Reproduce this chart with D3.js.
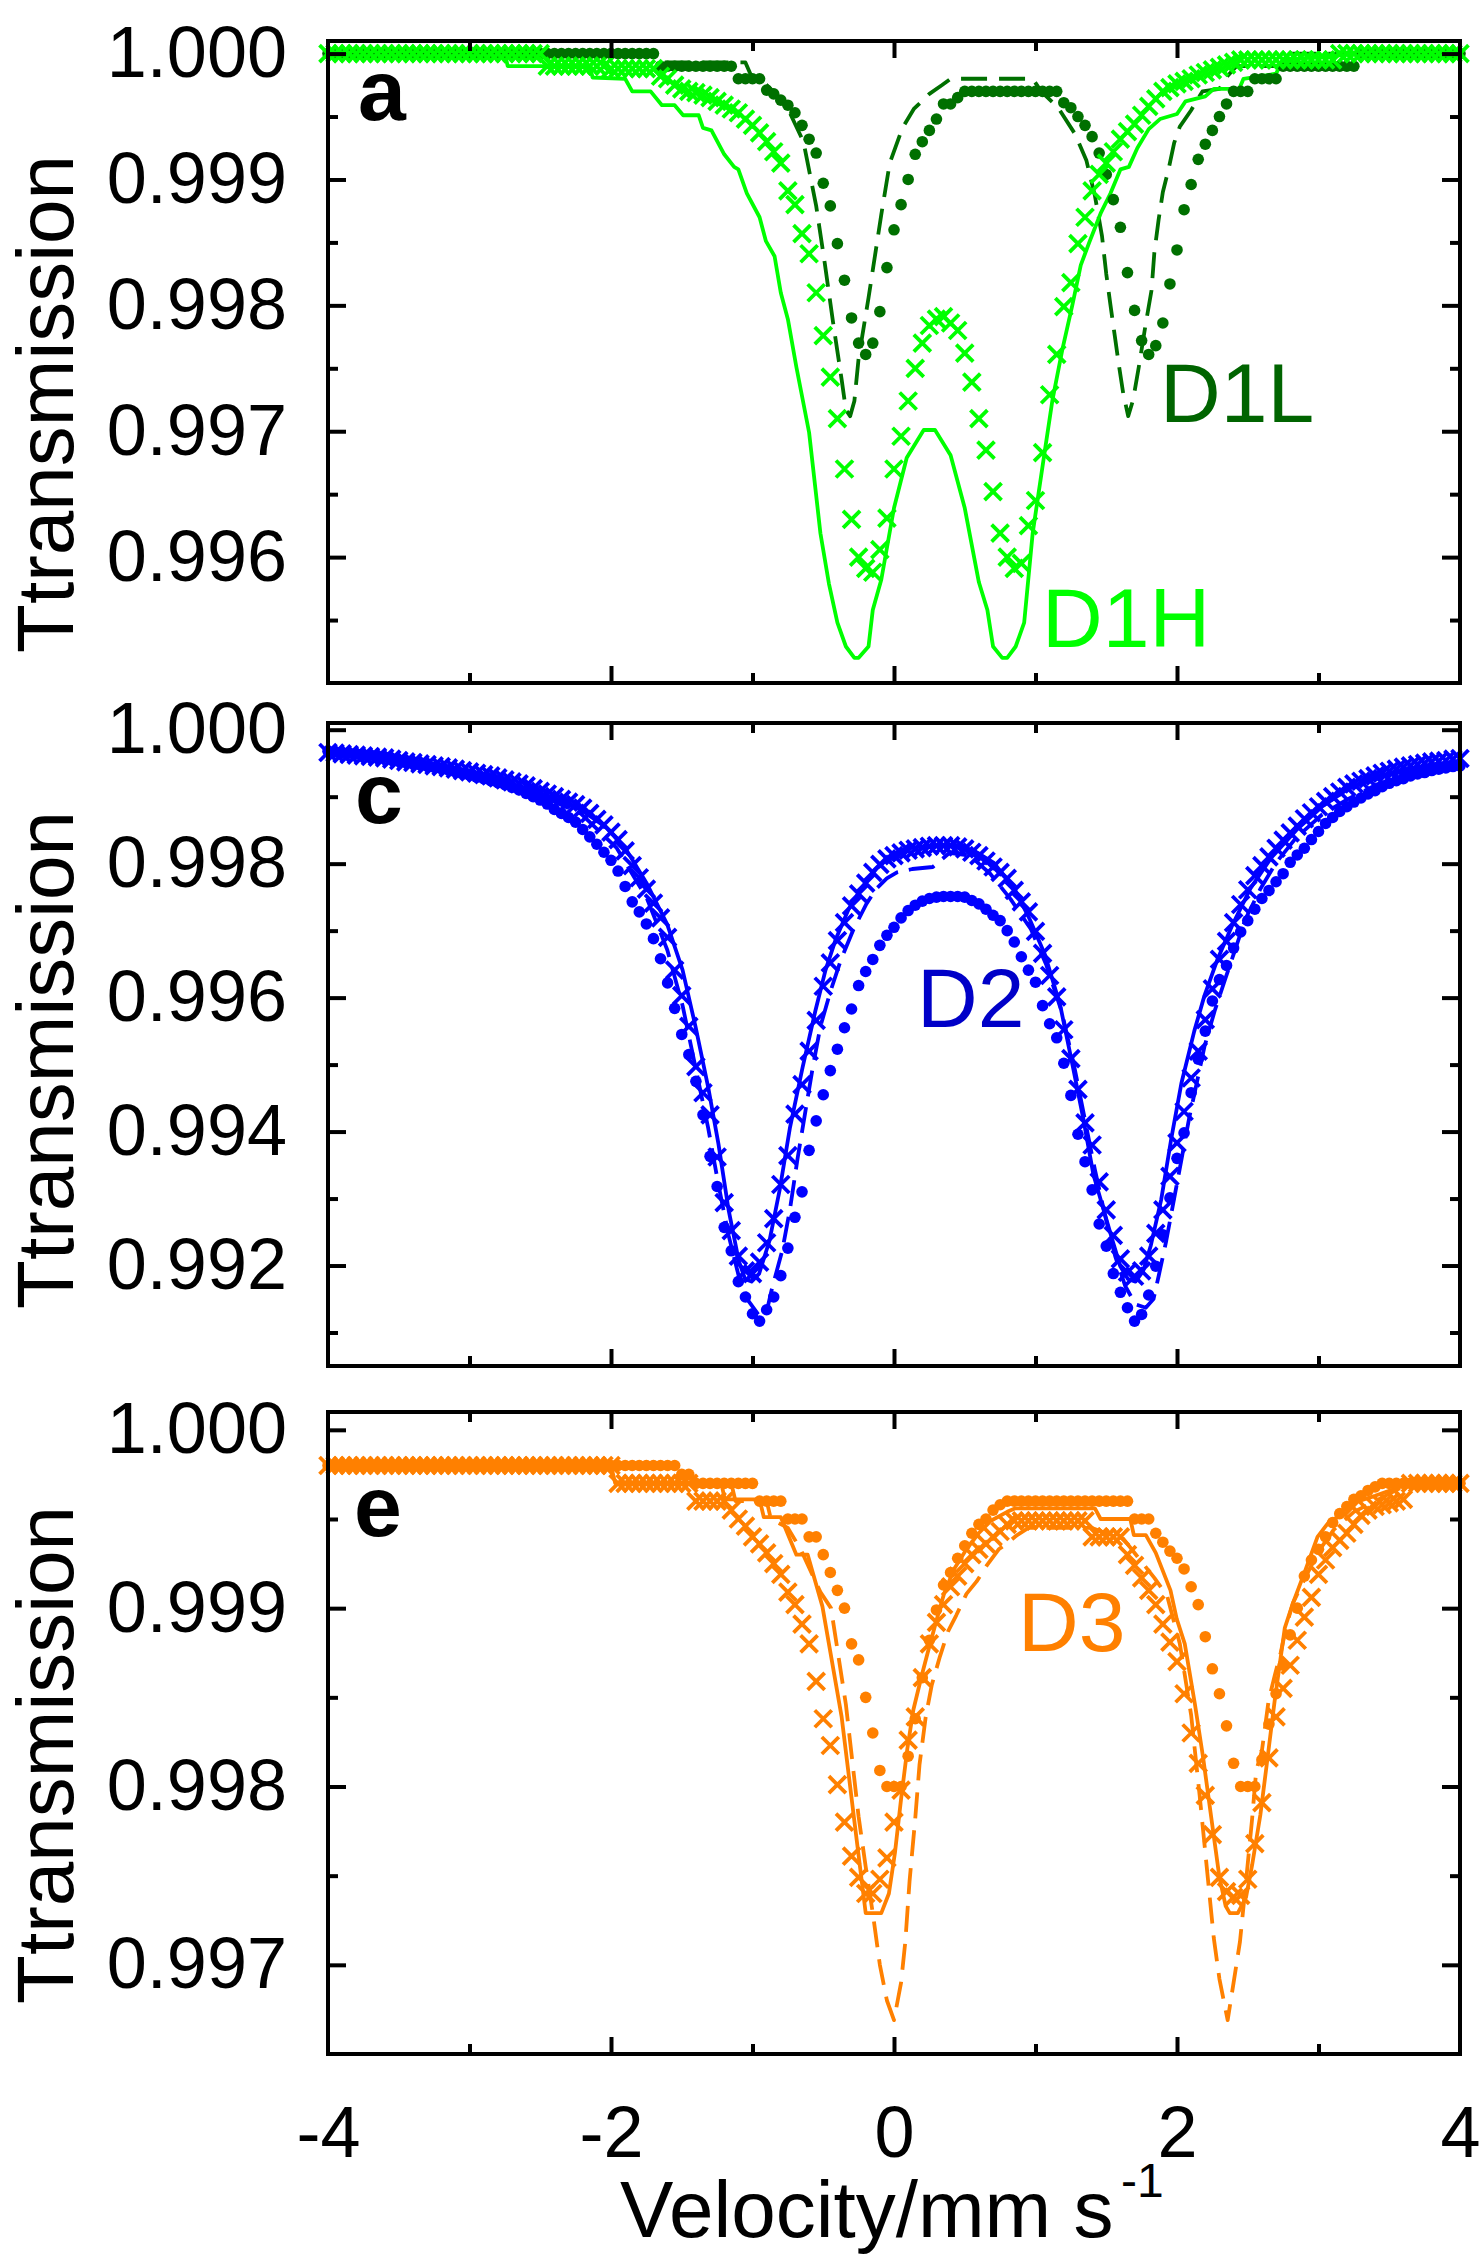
<!DOCTYPE html>
<html><head><meta charset="utf-8">
<script src="https://cdn.jsdelivr.net/npm/d3@7"></script>
<style>body{margin:0;background:#fff}svg{display:block}</style>
</head><body>
<svg id="chart" width="1484" height="2254"></svg>
<script>
// ---------- data ----------
const velocity = [
-4,-3.95,-3.9,-3.85,-3.8,-3.75,-3.7,-3.65,-3.6,-3.55,-3.5,-3.45,-3.4,-3.35,-3.3,-3.25,-3.2,-3.15,-3.1,-3.05,
-3,-2.95,-2.9,-2.85,-2.8,-2.75,-2.7,-2.65,-2.6,-2.55,-2.5,-2.45,-2.4,-2.35,-2.3,-2.25,-2.2,-2.15,-2.1,-2.05,
-2,-1.95,-1.9,-1.85,-1.8,-1.75,-1.7,-1.65,-1.6,-1.55,-1.5,-1.45,-1.4,-1.35,-1.3,-1.25,-1.2,-1.15,-1.1,-1.05,
-1,-0.95,-0.9,-0.85,-0.8,-0.75,-0.7,-0.65,-0.6,-0.55,-0.5,-0.45,-0.4,-0.35,-0.3,-0.25,-0.2,-0.15,-0.1,-0.05,
0,0.05,0.1,0.15,0.2,0.25,0.3,0.35,0.4,0.45,0.5,0.55,0.6,0.65,0.7,0.75,0.8,0.85,0.9,0.95,
1,1.05,1.1,1.15,1.2,1.25,1.3,1.35,1.4,1.45,1.5,1.55,1.6,1.65,1.7,1.75,1.8,1.85,1.9,1.95,
2,2.05,2.1,2.15,2.2,2.25,2.3,2.35,2.4,2.45,2.5,2.55,2.6,2.65,2.7,2.75,2.8,2.85,2.9,2.95,
3,3.05,3.1,3.15,3.2,3.25,3.3,3.35,3.4,3.45,3.5,3.55,3.6,3.65,3.7,3.75,3.8,3.85,3.9,3.95,
4];

// Panel a, D1L data (dots)
const d1lDots = [
1,1,1,1,1,1,1,1,1,1,1,1,1,1,1,1,1,1,1,1,
1,1,1,1,1,1,1,1,1,1,1,1,1,1,1,1,1,1,1,1,
1,1,1,1,1,1,1,0.9999,0.9999,0.9999,0.9999,0.9999,0.9999,0.9999,0.9999,0.9999,0.9999,0.9999,0.9998,0.9998,
0.9998,0.9998,0.99971,0.99968,0.99963,0.99959,0.99953,0.99943,0.99932,0.99921,0.99897,0.99879,0.99849,0.9982,0.9979,0.9977,0.99761,0.9977,0.99795,0.9983,
0.9986,0.9988,0.999,0.9992,0.9993,0.99939,0.99948,0.9996,0.9996,0.99965,0.9997,0.9997,0.9997,0.9997,0.9997,0.9997,0.9997,0.9997,0.9997,0.9997,
0.9997,0.9997,0.9997,0.9997,0.99961,0.99957,0.9995,0.99943,0.99934,0.99921,0.99904,0.99884,0.99862,0.99826,0.99796,0.99772,0.99761,0.99768,0.99786,0.99817,
0.99844,0.99876,0.99896,0.99916,0.99928,0.99939,0.9995,0.9996,0.9997,0.9997,0.9997,0.9998,0.9998,0.9998,0.9998,0.9999,0.9999,0.9999,0.9999,0.9999,
0.9999,0.9999,0.9999,0.9999,0.9999,0.9999,1,1,1,1,1,1,1,1,1,1,1,1,1,1,
1];
// Panel a, D1H data (crosses)
const d1hCross = [
1,1,1,1,1,1,1,1,1,1,1,1,1,1,1,1,1,1,1,1,
1,1,1,1,1,1,1,1,1,1,1,0.9999,0.9999,0.9999,0.9999,0.9999,0.9999,0.9999,0.9999,0.9999,
0.99988,0.99988,0.99988,0.99988,0.99988,0.99988,0.99988,0.99982,0.9998,0.99975,0.99972,0.9997,0.99969,0.99967,0.99965,0.99962,0.99959,0.99956,0.99953,0.99948,
0.99943,0.99937,0.9993,0.99922,0.99913,0.99891,0.9988,0.99857,0.99841,0.9981,0.99776,0.99743,0.9971,0.9967,0.9963,0.996,0.99591,0.99588,0.99606,0.99631,
0.9967,0.99696,0.99724,0.9975,0.9977,0.99784,0.99789,0.99791,0.99786,0.9978,0.99762,0.99739,0.9971,0.99685,0.99652,0.99619,0.996,0.99591,0.99595,0.99625,
0.99645,0.99683,0.99729,0.99761,0.99799,0.99818,0.99849,0.9987,0.99891,0.99904,0.99913,0.99922,0.99932,0.99938,0.99944,0.99951,0.99958,0.99964,0.9997,0.99973,
0.99976,0.99978,0.9998,0.99983,0.99985,0.99987,0.99989,0.99991,0.99993,0.99995,0.99995,0.99995,0.99995,0.99995,0.99995,0.99995,0.99995,0.99995,0.99995,0.99995,
0.99995,0.99995,0.99995,1,1,1,1,1,1,1,1,1,1,1,1,1,1,1,1,1,
1];
// Panel a, D1L fit (dashed)
const d1lFitV = [-4,-1.65,-1.62,-1.05,-1.0,-0.9,-0.77,-0.64,-0.55,-0.49,-0.43,-0.37,-0.34,-0.31,-0.28,-0.25,-0.18,-0.09,-0.03,0.06,0.14,0.25,0.34,0.4,0.98,1.04,1.16,1.28,1.36,1.42,1.47,1.5,1.53,1.56,1.59,1.62,1.655,1.69,1.73,1.78,1.82,1.84,1.87,1.9,1.94,1.98,2.02,2.1,2.18,2.3,2.34,2.42,2.75,2.79,4];
const d1lFitT = [1,1,0.99993,0.99993,0.9998,0.99975,0.99961,0.9993,0.99879,0.99834,0.99786,0.99741,0.99717,0.99712,0.99724,0.99758,0.99806,0.99872,0.99913,0.99941,0.99956,0.99968,0.99975,0.9998,0.9998,0.9997,0.99957,0.99936,0.99915,0.99887,0.99855,0.99825,0.998,0.99776,0.99752,0.9973,0.99712,0.99725,0.99751,0.99786,0.99812,0.99842,0.99868,0.9989,0.99908,0.99929,0.99942,0.99955,0.9997,0.99972,0.9998,0.9999,0.9999,1,1];
// Panel a, D1H fit (solid)
const d1hFitV = [-4,-2.75,-2.73,-2.15,-2.13,-1.9,-1.85,-1.72,-1.64,-1.55,-1.49,-1.38,-1.35,-1.29,-1.2,-1.13,-1.1,-1.04,-0.95,-0.905,-0.844,-0.8,-0.75,-0.69,-0.6,-0.52,-0.46,-0.4,-0.34,-0.28,-0.25,-0.18,-0.15,-0.09,0,0.09,0.21,0.29,0.4,0.5,0.6,0.66,0.7,0.765,0.8,0.86,0.92,0.98,1.06,1.12,1.19,1.26,1.32,1.38,1.46,1.53,1.6,1.66,1.72,1.8,1.88,2,2.06,2.2,2.26,2.44,2.47,2.7,2.75,3.3,4];
const d1hFitT = [1,1,0.9999,0.9999,0.99981,0.9998,0.9997,0.9997,0.99959,0.99959,0.99951,0.99951,0.99941,0.99939,0.9992,0.9991,0.99908,0.99889,0.9987,0.99851,0.99839,0.9981,0.99789,0.99751,0.99699,0.99619,0.99579,0.99548,0.99529,0.9952,0.9952,0.99529,0.99558,0.99582,0.99639,0.99679,0.99701,0.99701,0.99681,0.99639,0.9958,0.99558,0.99529,0.9952,0.9952,0.99529,0.99548,0.99619,0.9968,0.99725,0.99765,0.998,0.99832,0.9985,0.99873,0.99889,0.99908,0.9991,0.99925,0.9994,0.99948,0.99952,0.99962,0.99966,0.99972,0.99972,0.9998,0.99984,0.99995,1,1];

// Panel c, D2 data (dots)
const d2Dots = [
0.99968,0.99967,0.99966,0.99965,0.99964,0.99963,0.99962,0.9996,0.99959,0.99957,0.99954,0.99952,0.9995,0.99948,0.99946,0.99944,0.99942,0.9994,0.99937,0.99934,
0.99932,0.99929,0.99927,0.99924,0.99921,0.99918,0.99914,0.9991,0.99905,0.999,0.99895,0.99889,0.99881,0.99875,0.99869,0.99862,0.99851,0.9984,0.99829,0.99817,
0.99805,0.99789,0.99766,0.99743,0.99728,0.9971,0.99688,0.99658,0.99622,0.99584,0.99545,0.99515,0.99475,0.99425,0.99363,0.99318,0.99257,0.99222,0.99176,0.99153,
0.99128,0.99117,0.99134,0.99153,0.99185,0.99226,0.99272,0.9931,0.99372,0.99416,0.99455,0.99491,0.99523,0.99555,0.99583,0.99618,0.99639,0.99657,0.99678,0.99693,
0.99705,0.99719,0.9973,0.99738,0.99744,0.99748,0.9975,0.99751,0.99751,0.99751,0.9975,0.99745,0.9974,0.99732,0.99723,0.99715,0.997,0.99683,0.99661,0.99641,
0.99623,0.99588,0.99561,0.9954,0.99502,0.99454,0.99396,0.99355,0.99313,0.99262,0.99229,0.99188,0.9916,0.99137,0.99117,0.99127,0.99156,0.99199,0.99246,0.99301,
0.9936,0.99398,0.99458,0.99508,0.9955,0.99595,0.99627,0.99648,0.99674,0.99698,0.99715,0.99732,0.99748,0.9976,0.99773,0.99785,0.99802,0.99813,0.99823,0.99836,
0.99848,0.9986,0.99869,0.99878,0.99885,0.99892,0.99898,0.99904,0.99909,0.99915,0.9992,0.99924,0.99927,0.99931,0.99934,0.99936,0.99939,0.99941,0.99943,0.99945,
0.99946];
// Panel c, D2 data (crosses)
const d2Cross = [
0.99966,0.99965,0.99964,0.99963,0.99962,0.99961,0.9996,0.99959,0.99958,0.99956,0.99954,0.99952,0.99951,0.99949,0.99948,0.99946,0.99945,0.99943,0.99941,0.99939,
0.99937,0.99935,0.99933,0.99931,0.99928,0.99925,0.99922,0.99919,0.99916,0.99912,0.99908,0.99904,0.999,0.99896,0.99892,0.99888,0.99883,0.99875,0.99866,0.99858,
0.99847,0.99836,0.99819,0.99797,0.99779,0.99762,0.99741,0.99719,0.9969,0.99641,0.99603,0.99557,0.99497,0.99458,0.99425,0.99362,0.99294,0.99252,0.99214,0.99192,
0.99188,0.99205,0.99234,0.9927,0.99321,0.99364,0.99426,0.9947,0.9952,0.99566,0.99617,0.99652,0.99685,0.99712,0.99737,0.99755,0.99771,0.99787,0.99799,0.99807,
0.99812,0.99816,0.9982,0.99822,0.99824,0.99826,0.99827,0.99827,0.99827,0.99825,0.99822,0.99817,0.99812,0.99804,0.99795,0.99787,0.99778,0.9976,0.99743,0.99728,
0.99699,0.99666,0.99633,0.99601,0.99552,0.99509,0.99463,0.99413,0.9938,0.99325,0.99283,0.99245,0.9921,0.9919,0.99184,0.99192,0.99214,0.99248,0.99283,0.99333,
0.99383,0.9943,0.9948,0.9952,0.99567,0.99613,0.99657,0.99684,0.99712,0.99739,0.99761,0.99782,0.99797,0.9981,0.99823,0.99835,0.99846,0.99856,0.99867,0.99876,
0.99885,0.99893,0.999,0.99907,0.99914,0.99919,0.99923,0.99927,0.99931,0.99935,0.99938,0.99941,0.99944,0.99946,0.99948,0.9995,0.99952,0.99953,0.99954,0.99956,
0.99957];
// Panel c, D2 fits
const d2SolidV = [-4,-3.116,-2.575,-2.215,-2.034,-1.89,-1.746,-1.602,-1.494,-1.403,-1.313,-1.241,-1.169,-1.097,-1.053,-1.007,-0.953,-0.88,-0.808,-0.736,-0.646,-0.556,-0.484,-0.412,-0.321,-0.231,-0.123,-0.015,0.129,0.274,0.418,0.562,0.706,0.85,0.959,1.067,1.175,1.265,1.337,1.409,1.545,1.599,1.653,1.707,1.761,1.815,1.888,1.96,2.032,2.122,2.194,2.284,2.393,2.519,2.663,2.843,3.024,3.204,3.42,3.637,4];
const d2SolidT = [0.99965,0.99942,0.99911,0.99881,0.99854,0.9982,0.9977,0.99709,0.99641,0.99557,0.99466,0.99382,0.99283,0.99207,0.9918,0.99176,0.99188,0.99237,0.99313,0.99405,0.99496,0.9958,0.99641,0.99687,0.99732,0.99763,0.99793,0.99812,0.99824,0.99827,0.99827,0.9982,0.99801,0.99763,0.99717,0.99664,0.99588,0.99496,0.9942,0.99336,0.99237,0.99199,0.9918,0.99176,0.99192,0.9923,0.99298,0.9939,0.99473,0.9955,0.99603,0.99656,0.99709,0.99763,0.99808,0.9985,0.99885,0.99911,0.9993,0.99942,0.99953];
const d2DashV = [-4,-3.116,-2.575,-2.215,-1.962,-1.746,-1.602,-1.494,-1.403,-1.313,-1.241,-1.169,-1.097,-1.025,-0.953,-0.909,-0.863,-0.79,-0.736,-0.682,-0.628,-0.574,-0.52,-0.448,-0.376,-0.286,-0.195,-0.123,-0.051,0.021,0.129,0.274,0.391,0.535,0.68,0.824,0.968,1.076,1.184,1.275,1.347,1.419,1.491,1.563,1.635,1.707,1.779,1.834,1.87,1.924,1.978,2.032,2.086,2.14,2.194,2.266,2.338,2.41,2.483,2.591,2.699,2.843,3.024,3.204,3.42,3.637,4];
const d2DashT = [0.99967,0.99939,0.99909,0.99875,0.99824,0.99748,0.99671,0.99588,0.99496,0.99405,0.99321,0.99245,0.99184,0.99146,0.99125,0.99123,0.99165,0.99222,0.99283,0.99359,0.99428,0.99496,0.99557,0.9961,0.99656,0.99702,0.9974,0.99763,0.99778,0.99787,0.99792,0.99795,0.99816,0.99812,0.99785,0.99747,0.99702,0.99649,0.9958,0.99496,0.9942,0.99344,0.99275,0.99214,0.99169,0.99142,0.99137,0.9915,0.99184,0.99237,0.99298,0.99359,0.9942,0.99473,0.99527,0.9958,0.99626,0.99671,0.99717,0.99763,0.99801,0.99839,0.99873,0.99896,0.99919,0.99934,0.99949];

// Panel e, D3 data (dots)
const d3Dots = [
0.9998,0.9998,0.9998,0.9998,0.9998,0.9998,0.9998,0.9998,0.9998,0.9998,0.9998,0.9998,0.9998,0.9998,0.9998,0.9998,0.9998,0.9998,0.9998,0.9998,
0.9998,0.9998,0.9998,0.9998,0.9998,0.9998,0.9998,0.9998,0.9998,0.9998,0.9998,0.9998,0.9998,0.9998,0.9998,0.9998,0.9998,0.9998,0.9998,0.9998,
0.9998,0.9998,0.9998,0.9998,0.9998,0.9998,0.9998,0.9998,0.9998,0.9998,0.99975,0.99975,0.9997,0.9997,0.9997,0.9997,0.9997,0.9997,0.9997,0.9997,
0.9997,0.9996,0.9996,0.9996,0.9996,0.9995,0.9995,0.9995,0.9994,0.9994,0.9993,0.9992,0.9991,0.999,0.9988,0.99871,0.9985,0.9983,0.99809,0.998,
0.998,0.998,0.99817,0.99838,0.99861,0.99882,0.99899,0.99913,0.9992,0.99928,0.99935,0.99942,0.99947,0.9995,0.99955,0.99958,0.9996,0.9996,0.9996,0.9996,
0.9996,0.9996,0.9996,0.9996,0.9996,0.9996,0.9996,0.9996,0.9996,0.9996,0.9996,0.9996,0.9996,0.9996,0.9995,0.9995,0.9995,0.99942,0.99937,0.99932,
0.99928,0.99922,0.99912,0.99902,0.99884,0.99866,0.99852,0.99834,0.99813,0.998,0.998,0.998,0.99815,0.99835,0.99852,0.99868,0.99885,0.999,0.99918,0.99927,
0.99933,0.9994,0.99948,0.99953,0.99957,0.99961,0.99963,0.99966,0.99968,0.9997,0.9997,0.9997,0.9997,0.9997,0.9997,0.9997,0.9997,0.9997,0.9997,0.9997,
0.9997];
// Panel e, D3 data (crosses)
const d3Cross = [
0.9998,0.9998,0.9998,0.9998,0.9998,0.9998,0.9998,0.9998,0.9998,0.9998,0.9998,0.9998,0.9998,0.9998,0.9998,0.9998,0.9998,0.9998,0.9998,0.9998,
0.9998,0.9998,0.9998,0.9998,0.9998,0.9998,0.9998,0.9998,0.9998,0.9998,0.9998,0.9998,0.9998,0.9998,0.9998,0.9998,0.9998,0.9998,0.9998,0.9998,
0.9998,0.9997,0.9997,0.9997,0.9997,0.9997,0.9997,0.9997,0.9997,0.9997,0.9997,0.9997,0.9996,0.9996,0.9996,0.9996,0.9996,0.99955,0.9995,0.99946,
0.9994,0.99936,0.99931,0.99925,0.99919,0.99909,0.99902,0.99891,0.9988,0.99859,0.99838,0.99823,0.99801,0.9978,0.99761,0.99749,0.9974,0.9974,0.99748,0.9976,
0.9978,0.99798,0.99826,0.99839,0.99861,0.9988,0.99892,0.99902,0.99912,0.99918,0.99925,0.9993,0.99933,0.99936,0.9994,0.99943,0.99947,0.99949,0.99949,0.99949,
0.99949,0.99949,0.99949,0.99949,0.99949,0.99949,0.99949,0.99949,0.9994,0.9994,0.9994,0.9994,0.9994,0.9993,0.99924,0.99917,0.9991,0.99902,0.99891,0.99881,
0.9987,0.99852,0.9983,0.99813,0.99795,0.99773,0.99749,0.99741,0.99738,0.99739,0.99748,0.99768,0.99791,0.99816,0.99839,0.99855,0.99868,0.99882,0.99895,0.99906,
0.99919,0.99927,0.99934,0.99938,0.99942,0.99947,0.99952,0.99955,0.99957,0.99958,0.99959,0.9996,0.99961,0.9997,0.9997,0.9997,0.9997,0.9997,0.9997,0.9997,
0.9997];
// Panel e, D3 fits
const d3SolidV = [-4,-2,-1.97,-1.22,-1.196,-0.95,-0.92,-0.8,-0.69,-0.61,-0.506,-0.37,-0.276,-0.2,-0.15,-0.09,-0.036,0.007,0.05,0.094,0.137,0.195,0.238,0.296,0.353,0.425,0.512,0.598,0.685,0.8,0.858,1.42,1.46,1.67,1.695,1.78,1.85,1.954,1.998,2.055,2.127,2.185,2.243,2.3,2.344,2.373,2.43,2.488,2.531,2.589,2.632,2.69,2.762,2.82,2.906,2.993,3.08,3.195,3.28,3.4,3.54,3.68,4];
const d3SolidT = [0.9998,0.9998,0.9997,0.9997,0.99961,0.99961,0.99951,0.99951,0.9993,0.9993,0.99901,0.99839,0.99778,0.99729,0.99729,0.99729,0.9974,0.99763,0.99793,0.99821,0.99843,0.99862,0.99875,0.99892,0.99908,0.99922,0.99933,0.99942,0.99949,0.99954,0.99956,0.99956,0.9995,0.9995,0.99941,0.99941,0.99931,0.9991,0.99894,0.9988,0.99846,0.99816,0.99782,0.99749,0.99733,0.99729,0.99729,0.99738,0.99756,0.99784,0.99811,0.99848,0.99889,0.99903,0.99921,0.9994,0.99949,0.99953,0.9996,0.99963,0.99967,0.99971,0.99971];
const d3DashV = [-4,-1.95,-1.92,-1.15,-1.12,-0.9,-0.87,-0.75,-0.66,-0.52,-0.445,-0.34,-0.25,-0.2,-0.15,-0.1,-0.05,0,0.05,0.08,0.11,0.15,0.18,0.224,0.267,0.325,0.382,0.44,0.512,0.584,0.656,0.74,0.81,0.87,0.95,1.4,1.5,1.62,1.72,1.84,1.93,2.02,2.1,2.16,2.21,2.26,2.3,2.358,2.4,2.445,2.488,2.531,2.56,2.6,2.647,2.69,2.733,2.776,2.82,2.906,2.993,3.108,3.25,3.4,3.57,3.74,4];
const d3DashT = [0.9998,0.9998,0.9997,0.9997,0.9996,0.9996,0.9995,0.99945,0.99933,0.99909,0.999,0.99846,0.99783,0.99755,0.99729,0.997,0.9968,0.99669,0.9969,0.99713,0.99747,0.99782,0.99812,0.99839,0.99857,0.99873,0.99887,0.99896,0.99908,0.99915,0.99924,0.99933,0.99937,0.99941,0.99945,0.99945,0.99942,0.99939,0.99929,0.99917,0.99907,0.9988,0.9984,0.99795,0.99755,0.99715,0.99692,0.99669,0.9969,0.99713,0.99747,0.99782,0.99809,0.9982,0.99848,0.99862,0.99875,0.99891,0.99903,0.99917,0.99931,0.99944,0.99954,0.9996,0.99967,0.99971,0.99972];

// tick values
const aYMajor = [0.996,0.997,0.998,0.999,1.000];
const aYMinor = [0.9955,0.9965,0.9975,0.9985,0.9995];
const cYMajor = [0.992,0.994,0.996,0.998,1.000];
const cYMinor = [0.991,0.993,0.995,0.997,0.999];
const eYMajor = [0.997,0.998,0.999,1.000];
const eYMinor = [0.9975,0.9985,0.9995];
const xMajor = [-2,0,2];
const xMinor = [-3,-1,1,3];
const xLabels = [-4,-2,0,2,4];

// ---------- drawing ----------
const FONT = '"Liberation Sans", Arial, Helvetica, sans-serif';
const X0 = 328, X1 = 1460;
const svg = d3.select('#chart');
const x = d3.scaleLinear().domain([-4, 4]).range([X0, X1]);

const darkGreen = '#007000', lime = '#00ff00', blue = '#0000ff', orange = '#ff8000';

const panels = [
  { top: 41, bottom: 683, domain: [0.995, 1.0001], major: aYMajor, minor: aYMinor,
    letter: 'a', letterX: 358, letterY: 120, titleY: 404,
    lines: [{ v: d1lFitV, t: d1lFitT, color: darkGreen, dash: '26,12' },
            { v: d1hFitV, t: d1hFitT, color: lime }],
    markers: [{ t: d1lDots, color: darkGreen, shape: 'dot' },
              { t: d1hCross, color: lime, shape: 'cross' }],
    tags: [{ text: 'D1L', x: 1160, y: 422, color: '#006400' },
           { text: 'D1H', x: 1042, y: 647, color: lime }] },
  { top: 723, bottom: 1366, domain: [0.9905, 1.0001], major: cYMajor, minor: cYMinor,
    letter: 'c', letterX: 355, letterY: 823, titleY: 1060,
    lines: [{ v: d2DashV, t: d2DashT, color: blue, dash: '26,11' },
            { v: d2SolidV, t: d2SolidT, color: blue }],
    markers: [{ t: d2Dots, color: blue, shape: 'dot' },
              { t: d2Cross, color: blue, shape: 'cross' }],
    tags: [{ text: 'D2', x: 917, y: 1027, color: '#0000c8' }] },
  { top: 1412, bottom: 2054, domain: [0.9965, 1.0001], major: eYMajor, minor: eYMinor,
    letter: 'e', letterX: 354, letterY: 1536, titleY: 1755,
    lines: [{ v: d3DashV, t: d3DashT, color: orange, dash: '26,12' },
            { v: d3SolidV, t: d3SolidT, color: orange }],
    markers: [{ t: d3Dots, color: orange, shape: 'dot' },
              { t: d3Cross, color: orange, shape: 'cross' }],
    tags: [{ text: 'D3', x: 1018, y: 1651, color: orange }] }
];

function styleAxis(g) {
  g.select('.domain').remove();
  g.selectAll('line').attr('stroke', '#000').attr('stroke-width', 4);
  g.attr('font-family', FONT).attr('font-size', 72);
  g.selectAll('text').attr('fill', '#000');
  return g;
}

panels.forEach((p, i) => {
  const y = d3.scaleLinear().domain(p.domain).range([p.bottom, p.top]);
  const g = svg.append('g');

  p.lines.forEach(s => {
    g.append('path')
      .datum(d3.zip(s.v, s.t))
      .attr('d', d3.line().x(d => x(d[0])).y(d => y(d[1])))
      .attr('fill', 'none').attr('stroke', s.color).attr('stroke-width', 3.8)
      .attr('stroke-linejoin', 'round')
      .attr('stroke-dasharray', s.dash || null);
  });
  p.markers.forEach(s => {
    const pts = d3.zip(velocity, s.t);
    if (s.shape === 'dot') {
      g.append('g').selectAll('circle').data(pts).join('circle')
        .attr('cx', d => x(d[0])).attr('cy', d => y(d[1])).attr('r', 5.8).attr('fill', s.color);
    } else {
      g.append('g').selectAll('path').data(pts).join('path')
        .attr('d', 'M-8.5,-8.5L8.5,8.5M-8.5,8.5L8.5,-8.5')
        .attr('transform', d => `translate(${x(d[0])},${y(d[1])})`)
        .attr('stroke', s.color).attr('stroke-width', 3.8).attr('fill', 'none');
    }
  });

  // frame
  svg.append('rect').attr('x', X0).attr('y', p.top).attr('width', X1 - X0).attr('height', p.bottom - p.top)
    .attr('fill', 'none').attr('stroke', '#000').attr('stroke-width', 4);

  // axes (ticks inward)
  styleAxis(svg.append('g').attr('transform', `translate(${X0},0)`)
    .call(d3.axisLeft(y).tickValues(p.major).tickSize(-18).tickPadding(41).tickFormat(d3.format('.3f'))));
  styleAxis(svg.append('g').attr('transform', `translate(${X0},0)`)
    .call(d3.axisLeft(y).tickValues(p.minor).tickSize(-10).tickFormat('')));
  styleAxis(svg.append('g').attr('transform', `translate(${X1},0)`)
    .call(d3.axisRight(y).tickValues(p.major).tickSize(-18).tickFormat('')));
  styleAxis(svg.append('g').attr('transform', `translate(${X1},0)`)
    .call(d3.axisRight(y).tickValues(p.minor).tickSize(-10).tickFormat('')));
  styleAxis(svg.append('g').attr('transform', `translate(0,${p.bottom})`)
    .call(d3.axisBottom(x).tickValues(xMajor).tickSize(-17).tickFormat('')));
  styleAxis(svg.append('g').attr('transform', `translate(0,${p.bottom})`)
    .call(d3.axisBottom(x).tickValues(xMinor).tickSize(-10).tickFormat('')));
  styleAxis(svg.append('g').attr('transform', `translate(0,${p.top})`)
    .call(d3.axisTop(x).tickValues(xMajor).tickSize(-17).tickFormat('')));
  styleAxis(svg.append('g').attr('transform', `translate(0,${p.top})`)
    .call(d3.axisTop(x).tickValues(xMinor).tickSize(-10).tickFormat('')));

  if (i === panels.length - 1) {
    const lab = styleAxis(svg.append('g').attr('transform', `translate(0,${p.bottom})`)
      .call(d3.axisBottom(x).tickValues(xLabels).tickSize(0).tickPadding(52).tickFormat(d => String(d))));
    lab.selectAll('line').remove();
  }

  // panel letter
  svg.append('text').attr('x', p.letterX).attr('y', p.letterY).text(p.letter)
    .attr('font-family', FONT).attr('font-weight', 'bold').attr('font-size', 86).attr('fill', '#000');
  // y title
  svg.append('text').attr('transform', `translate(73,${p.titleY}) rotate(-90)`)
    .attr('text-anchor', 'middle').attr('font-family', FONT).attr('font-size', 80).attr('fill', '#000')
    .text('Ttransmission');
  // series tags
  p.tags.forEach(t => {
    svg.append('text').attr('x', t.x).attr('y', t.y).text(t.text)
      .attr('font-family', FONT).attr('font-size', 84).attr('fill', t.color);
  });
});

// x title
svg.append('text').attr('x', 620).attr('y', 2237).text('Velocity/mm s')
  .attr('font-family', FONT).attr('font-size', 80).attr('fill', '#000');
svg.append('text').attr('x', 1121).attr('y', 2197).text('-1')
  .attr('font-family', FONT).attr('font-size', 48).attr('fill', '#000');
</script>
</body></html>
